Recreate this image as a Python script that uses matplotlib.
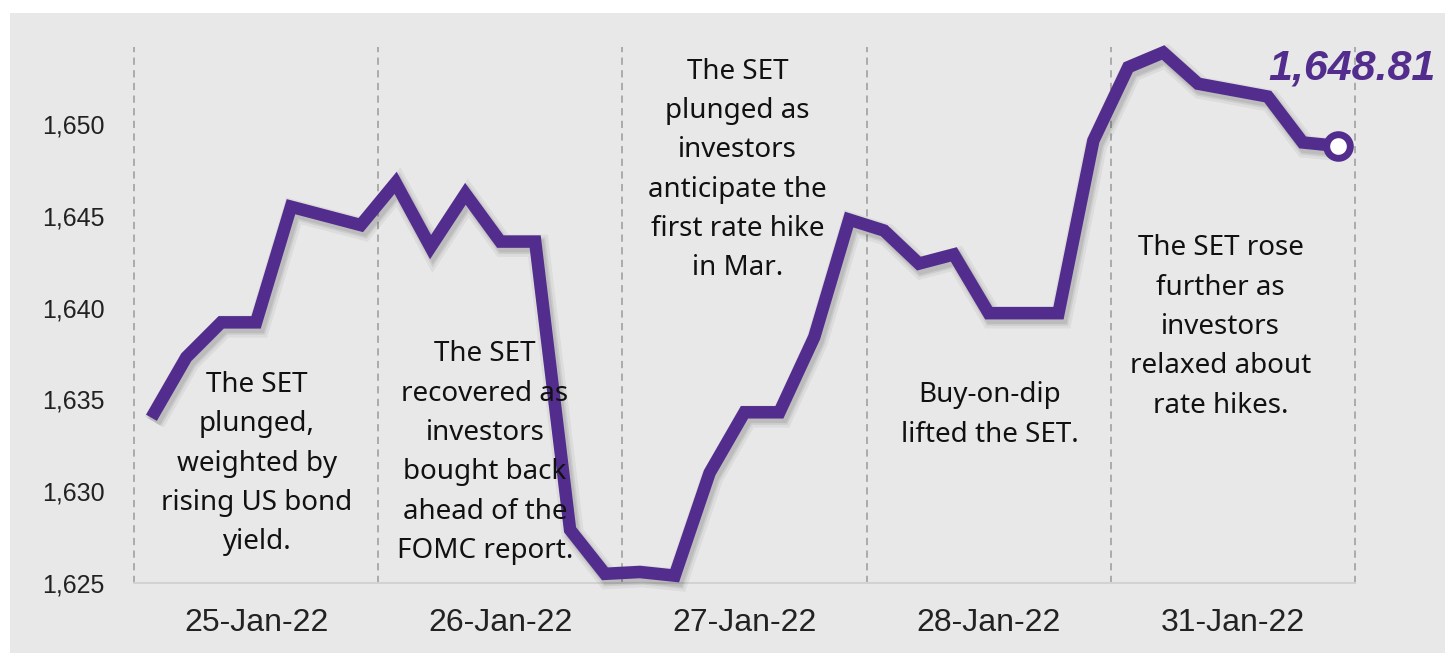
import matplotlib
matplotlib.use("Agg")
import matplotlib.pyplot as plt
import matplotlib.patheffects as pe
from matplotlib.patches import Rectangle

# ---- data ----
days = ["25-Jan-22", "26-Jan-22", "27-Jan-22", "28-Jan-22", "31-Jan-22"]
points_per_day = 7
set_index = [
    1634.0, 1637.3, 1639.2, 1639.2, 1645.5, 1645.0, 1644.5,   # 25-Jan
    1646.8, 1643.3, 1646.2, 1643.6, 1643.6, 1627.9, 1625.5,   # 26-Jan
    1625.6, 1625.4, 1631.0, 1634.3, 1634.3, 1638.4, 1644.8,   # 27-Jan
    1644.2, 1642.4, 1642.9, 1639.7, 1639.7, 1639.7, 1649.1,   # 28-Jan
    1653.1, 1653.9, 1652.2, 1651.85, 1651.5, 1649.0, 1648.81, # 31-Jan
]
last_label = "1,648.81"
y_ticks = [1625, 1630, 1635, 1640, 1645, 1650]
y_tick_labels = ["1,625", "1,630", "1,635", "1,640", "1,645", "1,650"]
notes = [
    "The SET\nplunged,\nweighted by\nrising US bond\nyield.",
    "The SET\nrecovered as\ninvestors\nbought back\nahead of the\nFOMC report.",
    "The SET\nplunged as\ninvestors\nanticipate the\nfirst rate hike\nin Mar.",
    "Buy-on-dip\nlifted the SET.",
    "The SET rose\nfurther as\ninvestors\nrelaxed about\nrate hikes.",
]
note_pos = [(3.02, 1631.5), (9.56, 1632.1), (16.8, 1647.5), (24.03, 1634.15), (30.65, 1638.95)]

PURPLE = "#532d8d"
BG = "#e8e8e8"

fig = plt.figure(figsize=(14.45, 6.53), dpi=100, facecolor="white")
bg = Rectangle((10 / 1445, 0), 1 - 10 / 1445, 640 / 653,
               transform=fig.transFigure, facecolor=BG, edgecolor="none", zorder=-10)
fig.patches.append(bg)
ax = fig.add_axes([134 / 1445, (653 - 583) / 653, (1355 - 134) / 1445, (583 - 47) / 653])
ax.set_zorder(1)
ax.set_facecolor(BG)

n = len(set_index)
x = list(range(n))
ax.set_xlim(-0.5, n - 0.5)
ax.set_ylim(1625, 1654.2)

# day separators
for k in range(len(days) + 1):
    ax.axvline(-0.5 + k * points_per_day, color="#a6a6a6", lw=1.3,
               ls=(0, (4, 3)), zorder=1, clip_on=False)

shadow = [
    pe.SimpleLineShadow(offset=(2, -3), shadow_color="#000000", alpha=0.05, linewidth=16),
    pe.SimpleLineShadow(offset=(2, -3), shadow_color="#000000", alpha=0.07, linewidth=12),
    pe.SimpleLineShadow(offset=(2, -3), shadow_color="#000000", alpha=0.08, linewidth=9.5),
    pe.Normal(),
]
ax.plot(x, set_index, color=PURPLE, lw=9, solid_joinstyle="miter",
        solid_capstyle="butt", zorder=3, clip_on=False, path_effects=shadow)
ax.plot([x[-1]], [set_index[-1]], marker="o", ms=17, mfc="white", mec=PURPLE,
        mew=5, zorder=4, clip_on=False)
ax.annotate(last_label, (x[-1], set_index[-1]), xytext=(10, 56),
            textcoords="offset points", ha="center", va="center",
            fontsize=31, fontweight="bold", fontstyle="italic",
            family="Liberation Sans", color=PURPLE, zorder=5)

for txt, (tx, ty) in zip(notes, note_pos):
    ax.text(tx, ty, txt, ha="center", va="center", fontsize=20,
            family="Noto Sans", color="#111111", linespacing=1.54, zorder=6)

ax.set_yticks(y_ticks)
ax.set_yticklabels(y_tick_labels, family="Liberation Sans", fontsize=18, color="#222222")
ax.set_xticks([3 + points_per_day * k for k in range(len(days))])
ax.set_xticklabels(days, family="Liberation Sans", fontsize=23, color="#222222")
ax.tick_params(axis="y", length=0, pad=21)
ax.tick_params(axis="x", length=0, pad=18)

for s in ["left", "right", "top"]:
    ax.spines[s].set_visible(False)
ax.spines["bottom"].set_color("#d2d2d2")
ax.spines["bottom"].set_linewidth(1.5)

fig.savefig("out.png", dpi=100, facecolor="white")
